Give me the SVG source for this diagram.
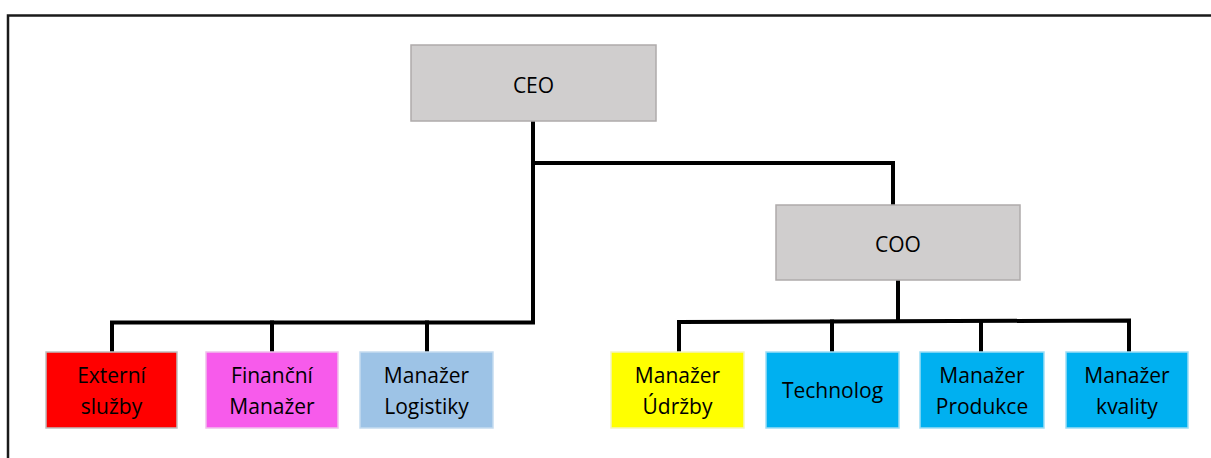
<svg xmlns="http://www.w3.org/2000/svg" width="1211" height="458" viewBox="0 0 1211 458">
  <style>
    .frame { fill: none; stroke: #1a1a1a; stroke-width: 2.5; }
    .link { fill: none; stroke: #000; stroke-width: 4; stroke-linejoin: miter; stroke-linecap: square; }
    .box { stroke-width: 1.5; }
    .grey { fill: #D0CECE; stroke: #AFABAB; }
    .red { fill: #FF0000; stroke: #BFBFBF; }
    .pink { fill: #F75BEB; stroke: #F0C0EC; }
    .lblue { fill: #9DC3E6; stroke: #C5DBEF; }
    .yellow { fill: #FFFF00; stroke: #F4F4C0; }
    .cyan { fill: #00B0F0; stroke: #9DDDF5; }
    text { font-family: "Open Sans", "Liberation Sans", Arial, sans-serif; font-size: 21px; fill: #000; text-anchor: middle; }
  </style>

  <!-- outer frame: top and left edges -->
  <path class="frame" d="M8,458 V15.5 H1211"/>

  <g id="connectors">
    <!-- CEO to its left branch and to COO -->
    <path class="link" d="M533,121 V322"/>
    <path class="link" d="M533,163 H893 V205"/>
    <path class="link" d="M112,352 V322.5 H533"/>
    <path class="link" d="M272,322.5 V352"/>
    <path class="link" d="M427,322.5 V352"/>
    <!-- COO branch -->
    <path class="link" d="M898,280 V321"/>
    <path class="link" d="M679,352 V322 L1129,320.5 V352"/>
    <path class="link" d="M832,321.5 V352"/>
    <path class="link" d="M981,321 V352"/>
  </g>

  <g id="ceo">
    <rect class="box grey" x="411" y="45" width="245" height="76"/>
    <text x="533.5" y="93">CEO</text>
  </g>

  <g id="coo">
    <rect class="box grey" x="776" y="205" width="244" height="75"/>
    <text x="898" y="252">COO</text>
  </g>

  <g id="externi-sluzby">
    <rect class="box red" x="46" y="352" width="131" height="76"/>
    <text x="111.5" y="383">Externí</text>
    <text x="111.5" y="414">služby</text>
  </g>

  <g id="financni-manazer">
    <rect class="box pink" x="206" y="352" width="132" height="76"/>
    <text x="272" y="383">Finanční</text>
    <text x="272" y="414">Manažer</text>
  </g>

  <g id="manazer-logistiky">
    <rect class="box lblue" x="360" y="352" width="133" height="76"/>
    <text x="426.5" y="383">Manažer</text>
    <text x="426.5" y="414">Logistiky</text>
  </g>

  <g id="manazer-udrzby">
    <rect class="box yellow" x="611" y="352" width="133" height="76"/>
    <text x="677.5" y="383">Manažer</text>
    <text x="677.5" y="414">Údržby</text>
  </g>

  <g id="technolog">
    <rect class="box cyan" x="766" y="352" width="133" height="76"/>
    <text x="832.5" y="398">Technolog</text>
  </g>

  <g id="manazer-produkce">
    <rect class="box cyan" x="920" y="352" width="124" height="76"/>
    <text x="982" y="383">Manažer</text>
    <text x="982" y="414">Produkce</text>
  </g>

  <g id="manazer-kvality">
    <rect class="box cyan" x="1066" y="352" width="122" height="76"/>
    <text x="1127" y="383">Manažer</text>
    <text x="1127" y="414">kvality</text>
  </g>
</svg>
